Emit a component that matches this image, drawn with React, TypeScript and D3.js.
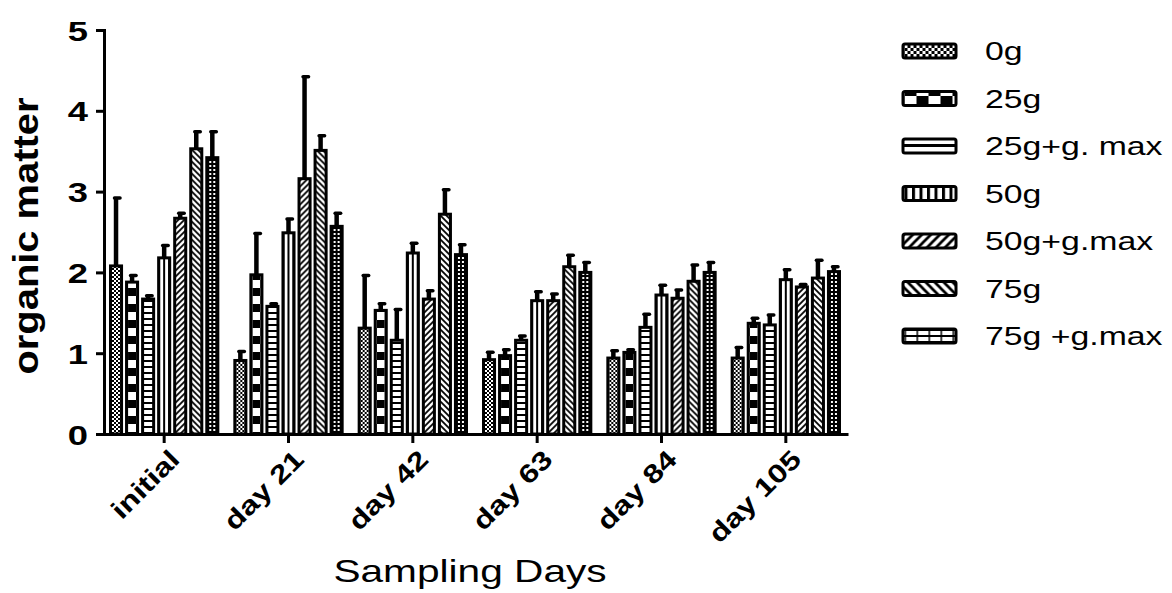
import React, { useRef, useEffect } from 'react'
import * as d3 from 'd3'

const categories = ['initial', 'day 21', 'day 42', 'day 63', 'day 84', 'day 105']
const seriesNames = ['0g', '25g', '25g+g. max', '50g', '50g+g.max', '75g', '75g +g.max']
const yTicks = [0, 1, 2, 3, 4, 5]

// means, one array per treatment (initial .. day 105)
const mean0g = [2.08, 0.91, 1.31, 0.92, 0.94, 0.94]
const mean25g = [1.88, 1.97, 1.53, 0.97, 1.01, 1.37]
const mean25gMax = [1.67, 1.58, 1.16, 1.16, 1.32, 1.35]
const mean50g = [2.18, 2.49, 2.24, 1.65, 1.72, 1.91]
const mean50gMax = [2.67, 3.16, 1.67, 1.65, 1.68, 1.82]
const mean75g = [3.53, 3.51, 2.72, 2.07, 1.89, 1.93]
const mean75gMax = [3.42, 2.57, 2.22, 2.0, 2.0, 2.01]

// error bar lengths (SD)
const sd0g = [0.86, 0.13, 0.67, 0.11, 0.11, 0.15]
const sd25g = [0.1, 0.53, 0.1, 0.09, 0.05, 0.08]
const sd25gMax = [0.06, 0.05, 0.4, 0.07, 0.18, 0.14]
const sd50g = [0.17, 0.19, 0.14, 0.13, 0.14, 0.14]
const sd50gMax = [0.08, 1.28, 0.12, 0.1, 0.12, 0.05]
const sd75g = [0.23, 0.2, 0.32, 0.16, 0.22, 0.24]
const sd75gMax = [0.34, 0.18, 0.14, 0.14, 0.14, 0.08]

const means = [mean0g, mean25g, mean25gMax, mean50g, mean50gMax, mean75g, mean75gMax]
const sds = [sd0g, sd25g, sd25gMax, sd50g, sd50gMax, sd75g, sd75gMax]

const FONT = "'Liberation Sans', Arial, sans-serif"
// the original's font renders wider than Arial: stretch text along its own direction
const SX = 1.3

function addPattern(defs: any, id: string, kind: number, xOff: number, k: number, legend = false) {
  const p = defs.append('pattern')
    .attr('id', id)
    .attr('patternUnits', 'userSpaceOnUse')
    .attr('x', xOff)
    .attr('y', 0)
  const tile = (w: number, h: number, bg: string) => {
    p.attr('width', w * k).attr('height', h * k)
    const g = p.append('g').attr('transform', `scale(${k})`)
    g.append('rect').attr('width', w).attr('height', h).attr('fill', bg)
    return g
  }
  if (kind === 0) {
    const g = tile(4, 4, '#fff')
    g.append('rect').attr('width', 2).attr('height', 2).attr('fill', '#000')
    g.append('rect').attr('x', 2).attr('y', 2).attr('width', 2).attr('height', 2).attr('fill', '#000')
  } else if (kind === 1) {
    const g = tile(16, 16, '#fff')
    g.append('rect').attr('width', 8).attr('height', 8).attr('fill', '#000')
    g.append('rect').attr('x', 8).attr('y', 8).attr('width', 8).attr('height', 8).attr('fill', '#000')
  } else if (kind === 2) {
    const g = tile(6, 6, '#fff')
    g.append('rect').attr('width', 6).attr('height', 2).attr('fill', '#000')
  } else if (kind === 3) {
    const g = tile(5, 5, '#fff')
    g.append('rect').attr('width', 2).attr('height', 5).attr('fill', '#000')
  } else if (kind === 4) {
    const g = tile(6, 6, '#fff')
    g.append('path').attr('d', 'M0,6L6,0M-1,1L1,-1M5,7L7,5').attr('stroke', '#000').attr('stroke-width', 1.8)
  } else if (kind === 5) {
    const g = tile(6, 6, '#fff')
    g.append('path').attr('d', 'M0,0L6,6M-1,5L1,7M5,-1L7,1').attr('stroke', '#000').attr('stroke-width', 1.8)
  } else if (legend) {
    // grid of white cells with thin black lines in the legend swatch
    const g = tile(12, 6, '#000')
    g.append('rect').attr('x', 1.5).attr('y', 1).attr('width', 10.5).attr('height', 4).attr('fill', '#fff')
  } else {
    const g = tile(4, 4, '#000')
    g.append('rect').attr('x', 1).attr('y', 1).attr('width', 2).attr('height', 2).attr('fill', '#fff')
  }
}

function BarChart() {
  const svgRef = useRef<SVGSVGElement>(null)

  useEffect(() => {
    const svg = d3.select(svgRef.current)
    svg.selectAll('*').remove()
    const defs = svg.append('defs')

    const y = d3.scaleLinear().domain([0, 5]).range([434, 30])
    const x0 = d3.scaleBand().domain(categories).range([102, 848]).padding(0)
    const x1 = d3.scaleBand().domain(seriesNames).range([6, x0.bandwidth() - 6])
    const step = x1.bandwidth()

    // bars
    const bars = svg.append('g')
    categories.forEach((cat, gi) => {
      seriesNames.forEach((name, si) => {
        const bx = (x0(cat) as number) + (x1(name) as number) + 2.5
        const pid = `pat-${si}-${gi}`
        addPattern(defs, pid, si, bx + 1.5 + (si === 3 ? 3 : 0), 1)
        bars.append('rect')
          .attr('x', bx)
          .attr('y', y(means[si][gi]))
          .attr('width', step - 5)
          .attr('height', y(0) - y(means[si][gi]))
          .attr('fill', `url(#${pid})`)
          .attr('stroke', '#000')
          .attr('stroke-width', 3)
      })
    })

    // error bars
    const errs = svg.append('g')
    categories.forEach((cat, gi) => {
      seriesNames.forEach((name, si) => {
        const cx = (x0(cat) as number) + (x1(name) as number) + step / 2
        const top = y(means[si][gi] + sds[si][gi])
        errs.append('line')
          .attr('x1', cx).attr('x2', cx)
          .attr('y1', y(means[si][gi])).attr('y2', top + 1)
          .attr('stroke', '#000').attr('stroke-width', 4.5)
        errs.append('line')
          .attr('x1', cx - 1.5).attr('x2', cx + 4)
          .attr('y1', top + 1.5).attr('y2', top + 1.5)
          .attr('stroke', '#000').attr('stroke-width', 3.5)
          .attr('stroke-linecap', 'round')
      })
    })

    // y axis
    const yAxis = svg.append('g')
      .attr('transform', 'translate(104,0)')
      .call(d3.axisLeft(y).tickValues(yTicks).tickSize(8).tickSizeOuter(0).tickFormat(d3.format('d')))
    yAxis.select('.domain').attr('stroke-width', 3).attr('stroke-linecap', 'square')
    yAxis.selectAll('.tick line').attr('stroke-width', 3)
    yAxis.selectAll('.tick text')
      .attr('x', -16 / SX)
      .attr('dy', '0.36em')
      .attr('transform', `scale(${SX},1)`)
      .style('font-family', FONT)
      .style('font-size', '28px')
      .style('font-weight', 'bold')
      .attr('fill', '#000')

    // x axis
    const xAxis = svg.append('g')
      .attr('transform', 'translate(0,434)')
      .call(d3.axisBottom(x0).tickSize(9).tickSizeOuter(0))
    xAxis.select('.domain').attr('stroke-width', 3)
    xAxis.selectAll('.tick line').attr('stroke-width', 3)
    xAxis.selectAll('.tick text')
      .attr('x', 0).attr('y', 0).attr('dy', 0)
      .attr('text-anchor', 'end')
      .attr('transform', 'translate(17,27) rotate(-45) scale(1.24,1)')
      .style('font-family', FONT)
      .style('font-size', '26px')
      .style('font-weight', 'bold')
      .attr('fill', '#000')

    // axis titles
    svg.append('g')
      .attr('transform', 'translate(38,236) rotate(-90) scale(1.14,1)')
      .append('text')
      .attr('text-anchor', 'middle')
      .style('font-family', FONT)
      .style('font-size', '35px')
      .style('font-weight', 'bold')
      .text('organic matter')

    svg.append('g')
      .attr('transform', 'translate(470,582) scale(1.27,1)')
      .append('text')
      .attr('text-anchor', 'middle')
      .style('font-family', FONT)
      .style('font-size', '32px')
      .text('Sampling Days')

    // legend
    const legend = svg.append('g').attr('transform', 'translate(900,0)')
    seriesNames.forEach((name, si) => {
      const cy = 51 + si * 47.5
      const pid = `leg-${si}`
      addPattern(defs, pid, si, 904.5, si === 6 ? 1 : 1.5, true)
      legend.append('rect')
        .attr('x', 3)
        .attr('y', cy - 7)
        .attr('width', 53)
        .attr('height', 14)
        .attr('rx', 2)
        .attr('fill', `url(#${pid})`)
        .attr('stroke', '#000')
        .attr('stroke-width', 3)
      legend.append('g')
        .attr('transform', `translate(85,${cy + 9}) scale(${SX},1)`)
        .append('text')
        .style('font-family', FONT)
        .style('font-size', '26px')
        .text(name)
    })
  }, [])

  return (
    <svg ref={svgRef} width={1172} height={593}
      style={{ position: 'absolute', left: 0, top: 0, background: '#fff' }} />
  )
}

export default function App() {
  return <BarChart />
}
